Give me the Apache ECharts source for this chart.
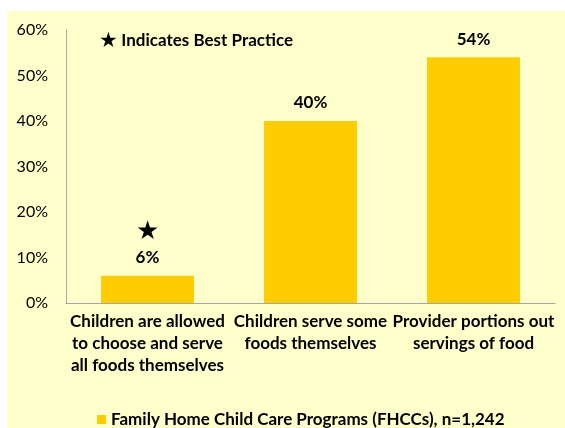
<!DOCTYPE html>
<html lang="en">
<head>
    <meta charset="UTF-8">
    <title>Serving practices</title>
    <script src="https://cdn.jsdelivr.net/npm/echarts@6/dist/echarts.min.js"></script>
    <style>
        body { margin: 0; background: #ffffff; }
        #bg { position: absolute; left: 7px; top: 11px; width: 558px; height: 417px; background: #FFFFCC; }
        #graph { position: absolute; left: 0; top: 0; width: 565px; height: 428px; }
    </style>
</head>
<body>
    <div id="bg"></div>
    <div id="graph"></div>

    <script>
        var categories = [
            'Children are allowed\nto choose and serve\nall foods themselves',
            'Children serve some\nfoods themselves',
            'Provider portions out\nservings of food'
        ];
        var values = [6, 40, 54];
        var bestPractice = [true, false, false];
        var seriesName = 'Family Home Child Care Programs (FHCCs), n=1,242';
        var yTicks = [0, 10, 20, 30, 40, 50, 60];

        var font = 'Lato, "Open Sans", sans-serif';
        var myChart = echarts.init(document.getElementById('graph'));
        var option = {
            backgroundColor: 'transparent',
            textStyle: { fontFamily: font },
            grid: { left: 66, right: 10, top: 30, bottom: 125 },
            graphic: [{
                type: 'text',
                left: 99,
                top: 30,
                style: {
                    text: '{s|★} {t|Indicates Best Practice}',
                    rich: {
                        s: { fontSize: 21, fontFamily: font, fill: '#000', color: '#000' },
                        t: { fontSize: 17, fontWeight: 'bold', fontFamily: font, fill: '#000', color: '#000' }
                    }
                }
            }],
            legend: {
                data: [seriesName],
                left: 97,
                bottom: 0,
                padding: 0,
                itemWidth: 9,
                itemHeight: 9,
                itemGap: 6,
                icon: 'rect',
                textStyle: { fontFamily: font, fontWeight: 'bold', fontSize: 17, color: '#000' }
            },
            xAxis: {
                type: 'category',
                data: categories,
                axisLine: { lineStyle: { color: '#A6A6A6' } },
                axisTick: { show: false },
                axisLabel: {
                    interval: 0,
                    fontFamily: font,
                    fontWeight: 'bold',
                    fontSize: 17,
                    lineHeight: 22,
                    color: '#000',
                    margin: 8
                }
            },
            yAxis: {
                type: 'value',
                min: yTicks[0],
                max: yTicks[yTicks.length - 1],
                interval: 10,
                axisLine: { show: true, lineStyle: { color: '#A6A6A6' } },
                axisTick: { show: false },
                splitLine: { show: false },
                axisLabel: {
                    formatter: '{value}%',
                    fontFamily: font,
                    fontSize: 16,
                    color: '#000',
                    margin: 18
                }
            },
            series: [{
                name: seriesName,
                type: 'bar',
                data: values,
                barWidth: '57%',
                itemStyle: { color: '#FFCC00' },
                label: {
                    show: true,
                    position: 'top',
                    distance: 8,
                    formatter: function (p) {
                        if (bestPractice[p.dataIndex]) {
                            return '{star|★}\n{val|' + p.value + '%}';
                        }
                        return '{val|' + p.value + '%}';
                    },
                    rich: {
                        star: { fontSize: 26, lineHeight: 34, color: '#000', fontFamily: font },
                        val: { fontSize: 17, fontWeight: 'bold', color: '#000', fontFamily: font, lineHeight: 20 }
                    }
                }
            }]
        };
        myChart.setOption(option);
    </script>
</body>
</html>
